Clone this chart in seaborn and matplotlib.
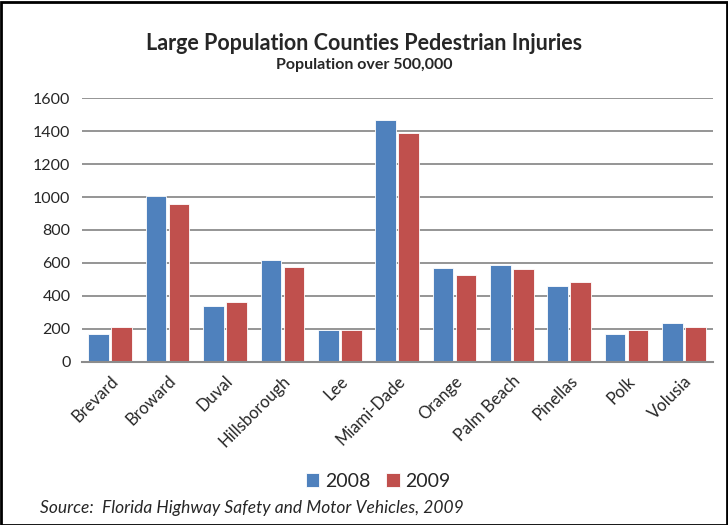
import numpy as np
import pandas as pd
import matplotlib
matplotlib.use("Agg")
import matplotlib.pyplot as plt
import seaborn as sns

# Values
counties = ["Brevard", "Broward", "Duval", "Hillsborough", "Lee", "Miami-Dade",
            "Orange", "Palm Beach", "Pinellas", "Polk", "Volusia"]
injuries_2008 = [166, 1006, 338, 620, 192, 1468, 569, 585, 458, 166, 233]
injuries_2009 = [209, 956, 365, 577, 192, 1391, 527, 561, 484, 192, 209]
years = ["2008", "2009"]

df = pd.DataFrame({
    "County": counties * 2,
    "Year": [years[0]] * len(counties) + [years[1]] * len(counties),
    "Injuries": injuries_2008 + injuries_2009,
})

sns.set_theme(style="white")
plt.rcParams["font.family"] = ["Lato", "DejaVu Sans"]

fig = plt.figure(figsize=(7.28, 5.25), dpi=100)
ax = fig.add_axes([0.112, 0.311, 0.867, 0.502])

sns.barplot(data=df, x="County", y="Injuries", hue="Year",
            palette=["#4F81BD", "#C0504D"], saturation=1, width=0.8, gap=0.1,
            edgecolor="white", linewidth=0.6, ax=ax)

ax.set_ylim(0, 1600)
ax.set_yticks(range(0, 1601, 200))
ax.set_xlim(-0.5, len(counties) - 0.5)
ax.yaxis.grid(True, color="#8c8c8c", linewidth=1.3)
ax.set_axisbelow(True)
for s in ["top", "right", "left"]:
    ax.spines[s].set_visible(False)
ax.spines["bottom"].set_color("#8c8c8c")
ax.spines["bottom"].set_linewidth(1.5)
ax.tick_params(axis="y", length=0, labelsize=11.5, pad=8)
ax.tick_params(axis="x", length=0, labelsize=12, pad=8)
ax.set_xlabel("")
ax.set_ylabel("")
plt.setp(ax.get_xticklabels(), rotation=45, ha="right", rotation_mode="anchor")

ax.legend(loc="upper center", bbox_to_anchor=(0.47, -0.355), ncol=2, frameon=False,
          fontsize=14, handlelength=0.7, handleheight=0.7, handletextpad=0.3,
          columnspacing=0.8)

fig.text(0.5, 0.918, "Large Population Counties Pedestrian Injuries", ha="center",
         va="center", fontsize=15.5, fontweight="bold")
fig.text(0.5, 0.876, "Population over 500,000", ha="center", va="center",
         fontsize=11.5, fontweight="bold")
fig.text(0.055, 0.032, "Source:  Florida Highway Safety and Motor Vehicles, 2009",
         ha="left", va="center", fontsize=12.5, style="italic")

fig.patches.append(plt.Rectangle((0.002, 0.0), 0.996, 0.997, transform=fig.transFigure,
                                 fill=False, edgecolor="black", linewidth=2))

fig.savefig("out.png", dpi=100)
